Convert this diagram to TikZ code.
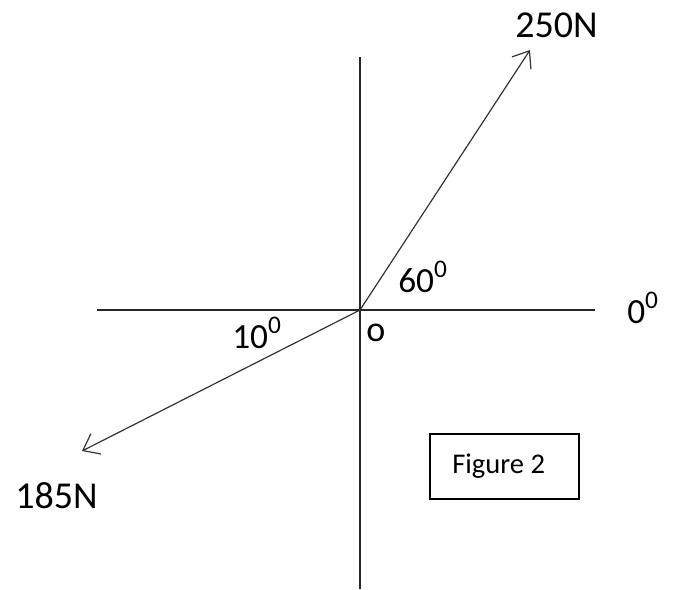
\documentclass[tikz,border=0pt]{standalone}
\usepackage{fontspec}
\setmainfont{Carlito}
\usetikzlibrary{arrows.meta}
\newcommand\degsup[1]{\raisebox{11pt}{\fontsize{19pt}{21pt}\selectfont #1}}
\begin{document}
\begin{tikzpicture}[x=0.75pt,y=-0.75pt,
  axis/.style={line width=1.1pt,draw=black!85},
  force/.style={line width=0.9pt,draw=black!80,-{Straight Barb[length=11pt,width=17pt,line width=0.9pt]}},
  lab/.style={inner sep=0pt,anchor=base west,font=\fontsize{28.5pt}{32pt}\selectfont},
  anglab/.style={inner sep=0pt,anchor=base west,font=\fontsize{26.5pt}{30pt}\selectfont},
  figbox/.style={draw=black,line width=1.1pt}]
\useasboundingbox (0,0) rectangle (674,589);
\coordinate (O) at (360,310);
\coordinate (vtop) at (360,57);
\coordinate (vbot) at (360,589);
\coordinate (hleft) at (97,310);
\coordinate (hright) at (595,310);
\coordinate (tipA) at (530,50);
\coordinate (tipB) at (82,451);
\draw[axis] (vtop) -- (vbot);
\draw[axis] (hleft) -- (hright);
\draw[force] (O) -- (tipA);
\draw[force] (O) -- (tipB);
\node[lab] (n250) at (515,37) {250N};
\node[lab] (n185) at (15,508) {185N};
\node[anglab] (zero) at (627,323) {0\degsup{0}};
\node[anglab] (sixty) at (398,292) {60\degsup{0}};
\node[anglab] (ten) at (232,348) {10\degsup{0}};
\node[anglab,font=\fontsize{27pt}{30pt}\selectfont] (olab) at (366,341) {o};
\draw[figbox] (430,434) rectangle (579,499);
\node[inner sep=0pt,anchor=base west,font=\fontsize{21.4pt}{25pt}\selectfont] (fig) at (452,473) {Figure 2};
\end{tikzpicture}
\end{document}
